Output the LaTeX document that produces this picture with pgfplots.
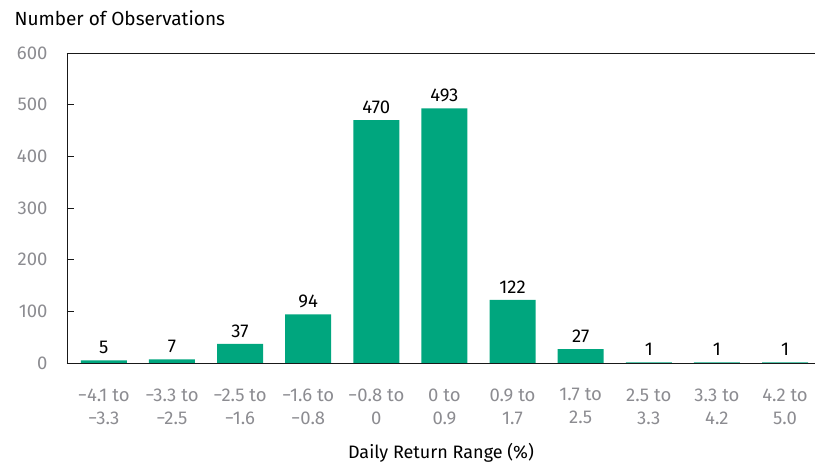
\documentclass[border=0pt]{standalone}
\usepackage{pgfplots}
\pgfplotsset{compat=1.18}
\usepackage{fontspec}
\setmainfont{Fira Sans}
\definecolor{bargreen}{RGB}{0,166,126}
\definecolor{tickgray}{RGB}{140,140,145}
\begin{document}
\begin{tikzpicture}[x=1pt,y=1pt]
\begin{axis}[
  scale only axis,
  width=748pt, height=310pt,
  xmin=-0.54, xmax=10.44,
  ymin=0, ymax=600,
  ytick={0,100,...,600},
  xtick=data,
  xticklabels={{−4.1 to\\−3.3},{−3.3 to\\−2.5},{−2.5 to\\−1.6},{−1.6 to\\−0.8},{−0.8 to\\0},{0 to\\0.9},{0.9 to\\1.7},{1.7 to\\2.5},{2.5 to\\3.3},{3.3 to\\4.2},{4.2 to\\5.0}},
  axis x line=box,
  axis y line*=left,
  axis line style={black!90, line width=0.9pt},
  ytick pos=left,
  tick align=inside,
  major tick length=7pt,
  major x tick style={draw=none},
  major y tick style={black!90, line width=0.9pt},
  /pgf/number format/assume math mode=true,
  tick label style={font=\fontsize{18.5}{23}\selectfont, text=tickgray},
  yticklabel style={xshift=-16pt},
  xticklabel style={align=center, yshift=-15pt},
  xlabel={Daily Return Range (\%)},
  xlabel style={font=\fontsize{18}{20}\selectfont, yshift=-12pt},
  ybar,
  bar width=46pt,
  nodes near coords,
  every node near coord/.append style={font=\fontsize{18.5}{20}\selectfont, text=black, yshift=3pt},
  clip=false,
]
\addplot[fill=bargreen, draw=none] coordinates {
(0,5) (1,7) (2,37) (3,94) (4,470) (5,493) (6,122) (7,27) (8,1) (9,1) (10,1)
};
\coordinate (sw) at (rel axis cs:0,0);
\end{axis}
\node[anchor=west, font=\fontsize{19}{20}\selectfont] at ([xshift=-56pt,yshift=345pt]sw) {Number of Observations};
\pgfresetboundingbox
\path[use as bounding box] ([xshift=-67pt,yshift=-102pt]sw) rectangle ++(815pt,465pt);
\end{tikzpicture}
\end{document}
